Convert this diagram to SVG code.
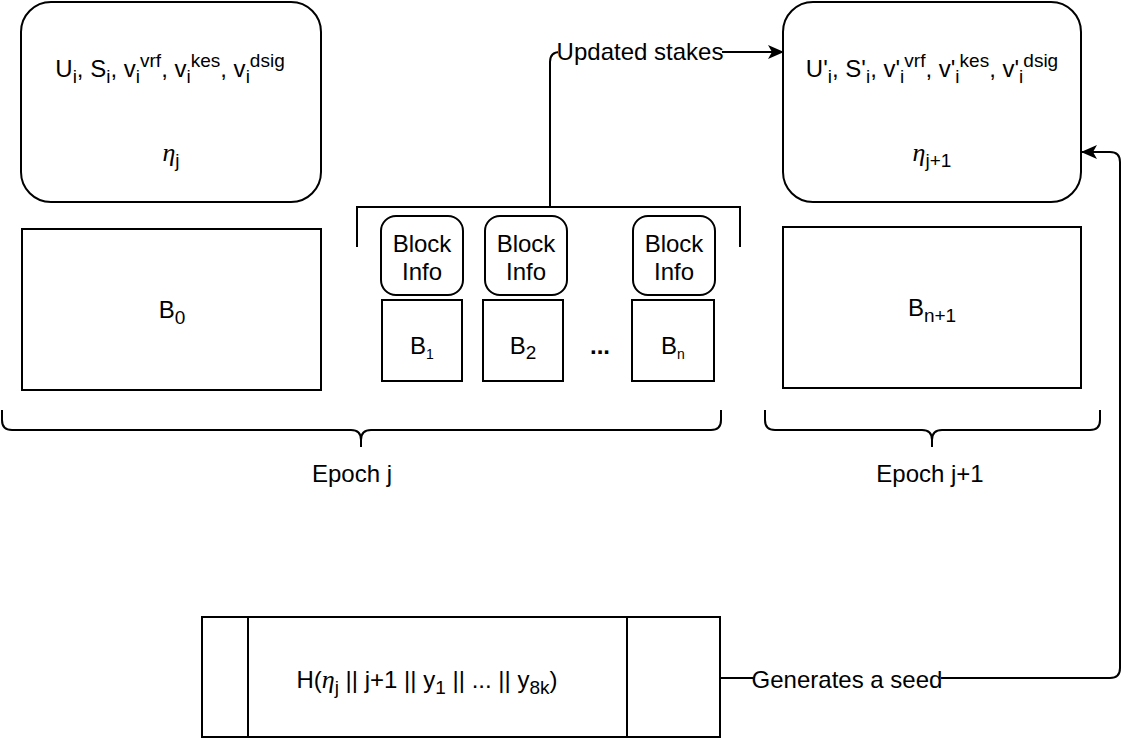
<svg xmlns="http://www.w3.org/2000/svg" width="1138" height="738" viewBox="0 0 1138 738">
<defs>
<style>
.box{fill:#fff;stroke:#000;stroke-width:2}
.ln{fill:none;stroke:#000;stroke-width:2}
text{font-family:"Liberation Sans",Arial,sans-serif;font-size:24px;fill:#000}
.c{text-anchor:middle}
.s{font-size:19px}
.eta{font-family:"Liberation Serif","DejaVu Serif",serif;font-style:italic;font-size:26px}
</style>
<marker id="ah" viewBox="0 0 16 14" refX="15" refY="7" markerWidth="16" markerHeight="14" markerUnits="userSpaceOnUse" orient="auto">
<path d="M0,0 L16,7 L0,14 L4,7 Z" fill="#000"/>
</marker>
</defs>
<rect width="1138" height="738" fill="#fff"/>

<g id="state-j">
<rect class="box" x="21" y="2" width="300" height="200" rx="30"/>
<text class="c" x="170" y="77">U<tspan class="s" dy="6">i</tspan><tspan dy="-6">, S</tspan><tspan class="s" dy="6">i</tspan><tspan dy="-6">, v</tspan><tspan class="s" dy="6">i</tspan><tspan class="s" dy="-16">vrf</tspan><tspan dy="10">, v</tspan><tspan class="s" dy="6">i</tspan><tspan class="s" dy="-16">kes</tspan><tspan dy="10">, v</tspan><tspan class="s" dy="6">i</tspan><tspan class="s" dy="-16">dsig</tspan></text>
<text class="c" x="171" y="161"><tspan class="eta">η</tspan><tspan class="s" dy="6">j</tspan></text>
</g>

<g id="state-j1">
<rect class="box" x="783" y="2" width="298" height="200" rx="30"/>
<text class="c" x="932" y="77">U'<tspan class="s" dy="6">i</tspan><tspan dy="-6">, S'</tspan><tspan class="s" dy="6">i</tspan><tspan dy="-6">, v'</tspan><tspan class="s" dy="6">i</tspan><tspan class="s" dy="-16">vrf</tspan><tspan dy="10">, v'</tspan><tspan class="s" dy="6">i</tspan><tspan class="s" dy="-16">kes</tspan><tspan dy="10">, v'</tspan><tspan class="s" dy="6">i</tspan><tspan class="s" dy="-16">dsig</tspan></text>
<text class="c" x="932" y="161"><tspan class="eta">η</tspan><tspan class="s" dy="6">j+1</tspan></text>
</g>

<g id="b0">
<rect class="box" x="22" y="229" width="299" height="161"/>
<text class="c" x="172" y="318">B<tspan class="s" dy="6">0</tspan></text>
</g>

<g id="bn1">
<rect class="box" x="783" y="227" width="298" height="161"/>
<text class="c" x="932" y="316">B<tspan class="s" dy="6">n+1</tspan></text>
</g>

<g id="info1">
<rect class="box" x="381" y="216" width="82" height="79" rx="15"/>
<text class="c" x="422" y="252">Block</text>
<text class="c" x="422" y="280">Info</text>
</g>
<g id="info2">
<rect class="box" x="485" y="216" width="82" height="79" rx="15"/>
<text class="c" x="526" y="252">Block</text>
<text class="c" x="526" y="280">Info</text>
</g>
<g id="info3">
<rect class="box" x="633" y="216" width="82" height="79" rx="15"/>
<text class="c" x="674" y="252">Block</text>
<text class="c" x="674" y="280">Info</text>
</g>

<g id="b1">
<rect class="box" x="382" y="300" width="80" height="81"/>
<text class="c" x="422" y="354">B<tspan font-size="14" dy="5">1</tspan></text>
</g>
<g id="b2">
<rect class="box" x="483" y="300" width="80" height="81"/>
<text class="c" x="523" y="354">B<tspan class="s" dy="5">2</tspan></text>
</g>
<g id="dots">
<text class="c" x="600" y="354" font-weight="bold">...</text>
</g>
<g id="bn">
<rect class="box" x="632" y="300" width="82" height="81"/>
<text class="c" x="673" y="354">B<tspan font-size="14" dy="5">n</tspan></text>
</g>

<g id="bracket-blocks">
<path class="ln" d="M357,247 V207 H740 V247"/>
</g>

<g id="epoch-j">
<path class="ln" d="M2,410 V420 Q2,430 12,430 H351 Q361,430 361,440 V447 M361,440 Q361,430 371,430 H711 Q721,430 721,420 V410"/>
<text class="c" x="352" y="482">Epoch j</text>
</g>

<g id="epoch-j1">
<path class="ln" d="M765,410 V420 Q765,430 775,430 H922 Q932,430 932,440 V447 M932,440 Q932,430 942,430 H1090 Q1100,430 1100,420 V410"/>
<text class="c" x="930" y="482">Epoch j+1</text>
</g>

<g id="hash">
<rect class="box" x="202" y="617" width="518" height="120"/>
<line class="ln" x1="248" y1="617" x2="248" y2="737"/>
<line class="ln" x1="627" y1="617" x2="627" y2="737"/>
<text class="c" x="427" y="688">H(<tspan class="eta">η</tspan><tspan class="s" dy="6">j</tspan><tspan dy="-6"> || j+1 || y</tspan><tspan class="s" dy="6">1</tspan><tspan dy="-6"> || ... || y</tspan><tspan class="s" dy="6">8k</tspan><tspan dy="-6">)</tspan></text>
</g>

<g id="connectors">
<path class="ln" d="M550,207 V62 Q550,52 560,52 H783" marker-end="url(#ah)"/>
<path class="ln" d="M720,678 H1110 Q1120,678 1120,668 V162 Q1120,152 1110,152 H1082" marker-end="url(#ah)"/>
<rect x="558" y="38" width="164" height="28" fill="#fff"/>
<text class="c" x="640" y="60">Updated stakes</text>
<rect x="753" y="665" width="188" height="28" fill="#fff"/>
<text class="c" x="847" y="688">Generates a seed</text>
</g>
</svg>
